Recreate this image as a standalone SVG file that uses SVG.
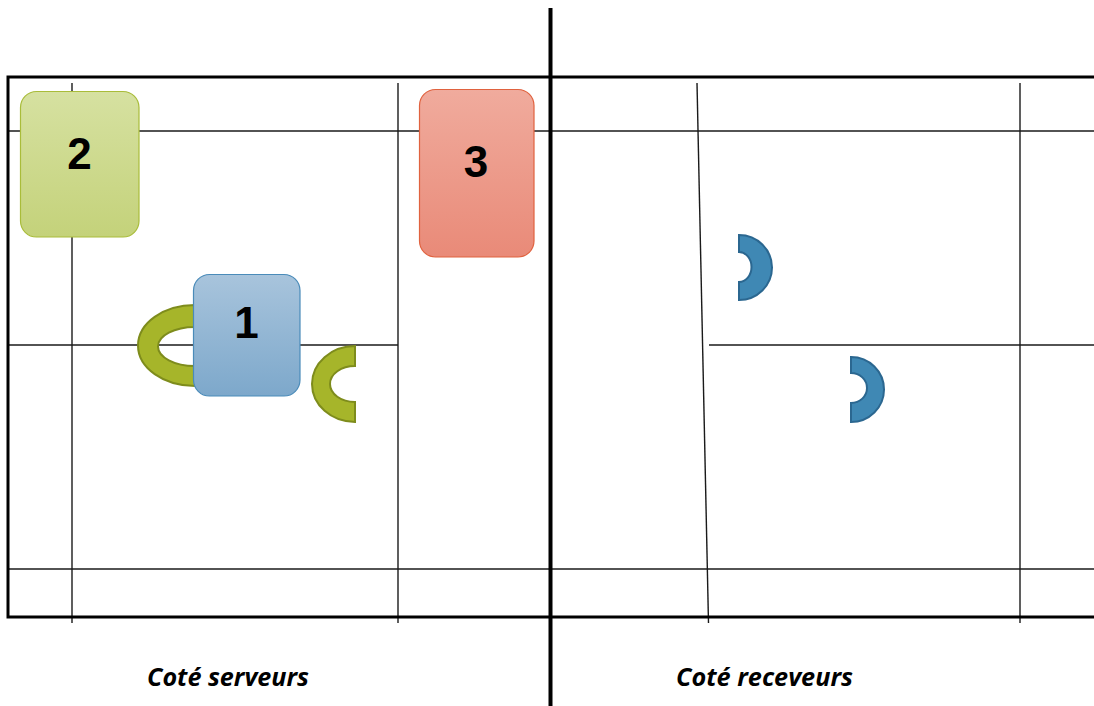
<svg xmlns="http://www.w3.org/2000/svg" width="1094" height="706" viewBox="0 0 1094 706">
  <style>
    .thin { stroke: #1a1a1a; stroke-width: 1.4; fill: none; }
    .thick { stroke: #000; stroke-width: 3; fill: none; }
    .num { font-family: "Liberation Sans", Arial, sans-serif; font-weight: bold; font-size: 44px; fill: #000; text-anchor: middle; }
    .side { font-family: "Open Sans", "Liberation Sans", sans-serif; font-weight: bold; font-style: italic; font-size: 25px; fill: #000; text-anchor: middle; }
    .green-c { fill: #a6b52a; stroke: #7e8c1c; stroke-width: 2; }
    .blue-d { fill: #3f88b4; stroke: #2b6790; stroke-width: 2; }
  </style>
  <defs>
    <linearGradient id="gGreen" x1="0" y1="0" x2="0" y2="1">
      <stop offset="0" stop-color="#d6e1a1"/>
      <stop offset="1" stop-color="#c4d27a"/>
    </linearGradient>
    <linearGradient id="gRed" x1="0" y1="0" x2="0" y2="1">
      <stop offset="0" stop-color="#f0ab9d"/>
      <stop offset="1" stop-color="#e98a78"/>
    </linearGradient>
    <linearGradient id="gBlue" x1="0" y1="0" x2="0" y2="1">
      <stop offset="0" stop-color="#a8c4dc"/>
      <stop offset="1" stop-color="#7da8cb"/>
    </linearGradient>
  </defs>

  <rect width="1094" height="706" fill="#fff"/>

  <!-- grid -->
  <g id="connectors">
    <line class="thin" x1="8" y1="131" x2="1094" y2="131"/>
    <line class="thin" x1="8" y1="345" x2="398" y2="345"/>
    <line class="thin" x1="709" y1="345" x2="1094" y2="345"/>
    <line class="thin" x1="8" y1="569" x2="1094" y2="569"/>
    <line class="thin" x1="72" y1="83" x2="72" y2="623"/>
    <line class="thin" x1="398" y1="83" x2="398" y2="623"/>
    <line class="thin" x1="697" y1="83" x2="708.5" y2="623"/>
    <line class="thin" x1="1020" y1="83" x2="1020" y2="623"/>
    <path class="thick" d="M1094,77 H8 V617 H1094"/>
    <line x1="550.5" y1="8" x2="550.5" y2="706" stroke="#000" stroke-width="4"/>
  </g>

  <!-- half rings -->
  <g id="ring-left">
    <path class="green-c" d="M195,305 A57,40.5 0 0 0 195,386 L195,366 A37,19.5 0 0 1 195,327 Z"/>
  </g>
  <g id="ring-right">
    <path class="green-c" d="M355,346 A43,38 0 0 0 355,422 L355,402 A25,18 0 0 1 355,366 Z"/>
  </g>
  <g id="d-upper">
    <path class="blue-d" d="M739,235 A33,32.5 0 0 1 739,300 L739,282 A12.5,15 0 0 0 739,252 Z"/>
  </g>
  <g id="d-lower">
    <path class="blue-d" d="M851,357 A33,32.5 0 0 1 851,422 L851,403 A16,15 0 0 0 851,373 Z"/>
  </g>

  <!-- boxes -->
  <g id="node-2">
    <rect x="20.5" y="91.5" width="118.5" height="145.5" rx="16" fill="url(#gGreen)" stroke="#a9bc3a" stroke-width="1.2"/>
    <text class="num" x="79.5" y="169">2</text>
  </g>
  <g id="node-3">
    <rect x="419.5" y="89.5" width="114.5" height="167.5" rx="16" fill="url(#gRed)" stroke="#e0623f" stroke-width="1.2"/>
    <text class="num" x="476" y="177">3</text>
  </g>
  <g id="node-1">
    <rect x="193.5" y="274.5" width="106.5" height="121.5" rx="16" fill="url(#gBlue)" stroke="#4a8bb9" stroke-width="1.2"/>
    <text class="num" x="246.5" y="338">1</text>
  </g>

  <!-- side captions -->
  <g id="caption-left">
    <text class="side" x="228" y="686" textLength="162" lengthAdjust="spacingAndGlyphs">Coté serveurs</text>
  </g>
  <g id="caption-right">
    <text class="side" x="764.5" y="686" textLength="177" lengthAdjust="spacingAndGlyphs">Coté receveurs</text>
  </g>
</svg>
